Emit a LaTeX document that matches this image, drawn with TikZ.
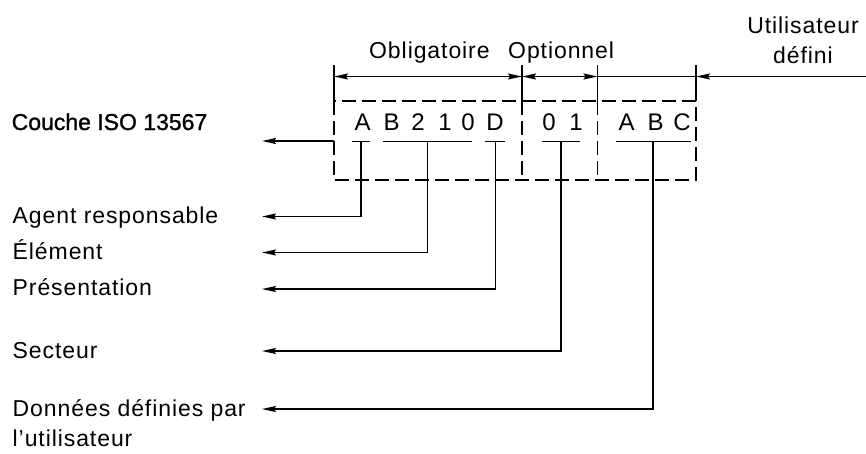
\documentclass[tikz,border=0pt]{standalone}
\usepackage{fontspec}
\setmainfont{Liberation Sans}[LetterSpace=4]
\newfontfamily\boldiso{Liberation Sans}[LetterSpace=0,FakeBold=1.2]
\usetikzlibrary{arrows.meta}
\begin{document}
\begin{tikzpicture}[x=1pt,y=-1pt,
  ln/.style={line width=1.5pt},
  dsh/.style={line width=1.7pt,dash pattern=on 14pt off 6pt},
  arr/.style={ln,-{Stealth[length=14pt,width=6pt,inset=2pt]}},
  dimarr/.style={ln,{Stealth[length=14pt,width=6pt,inset=2pt]}-{Stealth[length=14pt,width=6pt,inset=2pt]}},
  lbl/.style={anchor=base west,inner sep=0pt,font=\fontsize{23}{27}\selectfont},
  ctr/.style={anchor=base,inner sep=0pt,font=\fontsize{23}{27}\selectfont},
  chr/.style={anchor=base,inner sep=0pt,font=\fontsize{24}{28}\selectfont}]
\useasboundingbox (0,0) rectangle (866,453);
% box coordinates
\coordinate (L) at (334,101);
\coordinate (R) at (696,180);
\coordinate (d1t) at (522,101);
\coordinate (d1b) at (522,180);
\coordinate (d2t) at (597.5,101);
\coordinate (d2b) at (597.5,180);
\coordinate (eL) at (334,65);
\coordinate (e1) at (522,65);
\coordinate (e2) at (597.5,65);
\coordinate (eR) at (696,65);
\coordinate (eRb) at (696,101);
% dimension line points
\coordinate (mL) at (334,76.5);
\coordinate (m1) at (522,76.5);
\coordinate (m2) at (597.5,76.5);
\coordinate (mR) at (696,76.5);
\coordinate (mE) at (866,76.5);
% extension lines
\draw[ln] (eL) -- (L);
\draw[ln] (e1) -- (d1t);
\draw[ln] (e2) -- (d2t);
\draw[ln] (eR) -- (eRb);
% dashed box and dividers
\draw[dsh] (L) rectangle (R);
\draw[dsh] (d1t) -- (d1b);
\draw[dsh] (d2t) -- (d2b);
% dimension lines
\draw[dimarr] (mL) -- (m1);
\draw[dimarr] (m1) -- (m2);
\draw[ln] (m2) -- (mR);
\draw[arr] (mE) -- (mR);
% header texts
\node[lbl] (obl) at (369,58) {Obligatoire};
\node[lbl] (opt) at (508,58) {Optionnel};
\node[ctr] (ut1) at (803,33) {Utilisateur};
\node[ctr] (ut2) at (803,63) {défini};
% characters
\node[chr] (cA) at (362.5,130) {A};
\node[chr] (cB) at (391.5,130) {B};
\node[chr] (c2) at (418,130) {2};
\node[chr] (c1) at (445,130) {1};
\node[chr] (c0) at (468,130) {0};
\node[chr] (cD) at (495,130) {D};
\node[chr] (o0) at (549,130) {0};
\node[chr] (o1) at (576,130) {1};
\node[chr] (uA) at (626.5,130) {A};
\node[chr] (uB) at (655.5,130) {B};
\node[chr] (uC) at (682,130) {C};
% underlines
\coordinate (u1a) at (351.5,141.5); \coordinate (u1b) at (370,141.5);
\coordinate (u2a) at (383,141.5);   \coordinate (u2b) at (472,141.5);
\coordinate (u3a) at (485,141.5);   \coordinate (u3b) at (505,141.5);
\coordinate (u4a) at (542,141.5);   \coordinate (u4b) at (580,141.5);
\coordinate (u5a) at (616,141.5);   \coordinate (u5b) at (691,141.5);
\draw[ln] (u1a) -- (u1b);
\draw[ln] (u2a) -- (u2b);
\draw[ln] (u3a) -- (u3b);
\draw[ln] (u4a) -- (u4b);
\draw[ln] (u5a) -- (u5b);
\coordinate (s1) at (361,141.5);
\coordinate (s2) at (427.5,141.5);
\coordinate (s3) at (495.5,141.5);
\coordinate (s4) at (561,141.5);
\coordinate (s5) at (653,141.5);
% left labels
\node[lbl,font=\fontsize{23}{27}\boldiso] (couche) at (11.5,130) {Couche ISO 13567};
\node[lbl] (agent) at (12.5,223) {Agent responsable};
\node[lbl] (elem) at (12.5,259) {Élément};
\node[lbl] (pres) at (12.5,295) {Présentation};
\node[lbl] (sect) at (12.5,358) {Secteur};
\node[lbl] (donn) at (12.5,416) {Données définies par};
\node[lbl] (util) at (12.5,446) {l'utilisateur};
% arrow tips
\coordinate (t0) at (262,141);
\coordinate (t1) at (262,216.5);
\coordinate (t2) at (262,252.5);
\coordinate (t3) at (262,289);
\coordinate (t4) at (262,351);
\coordinate (t5) at (262,409);
\coordinate (lc) at (334,141);
% leaders
\draw[arr] (lc) -- (t0);
\draw[arr] (s1) |- (t1);
\draw[arr] (s2) |- (t2);
\draw[arr] (s3) |- (t3);
\draw[arr] (s4) |- (t4);
\draw[arr] (s5) |- (t5);
\end{tikzpicture}
\end{document}
